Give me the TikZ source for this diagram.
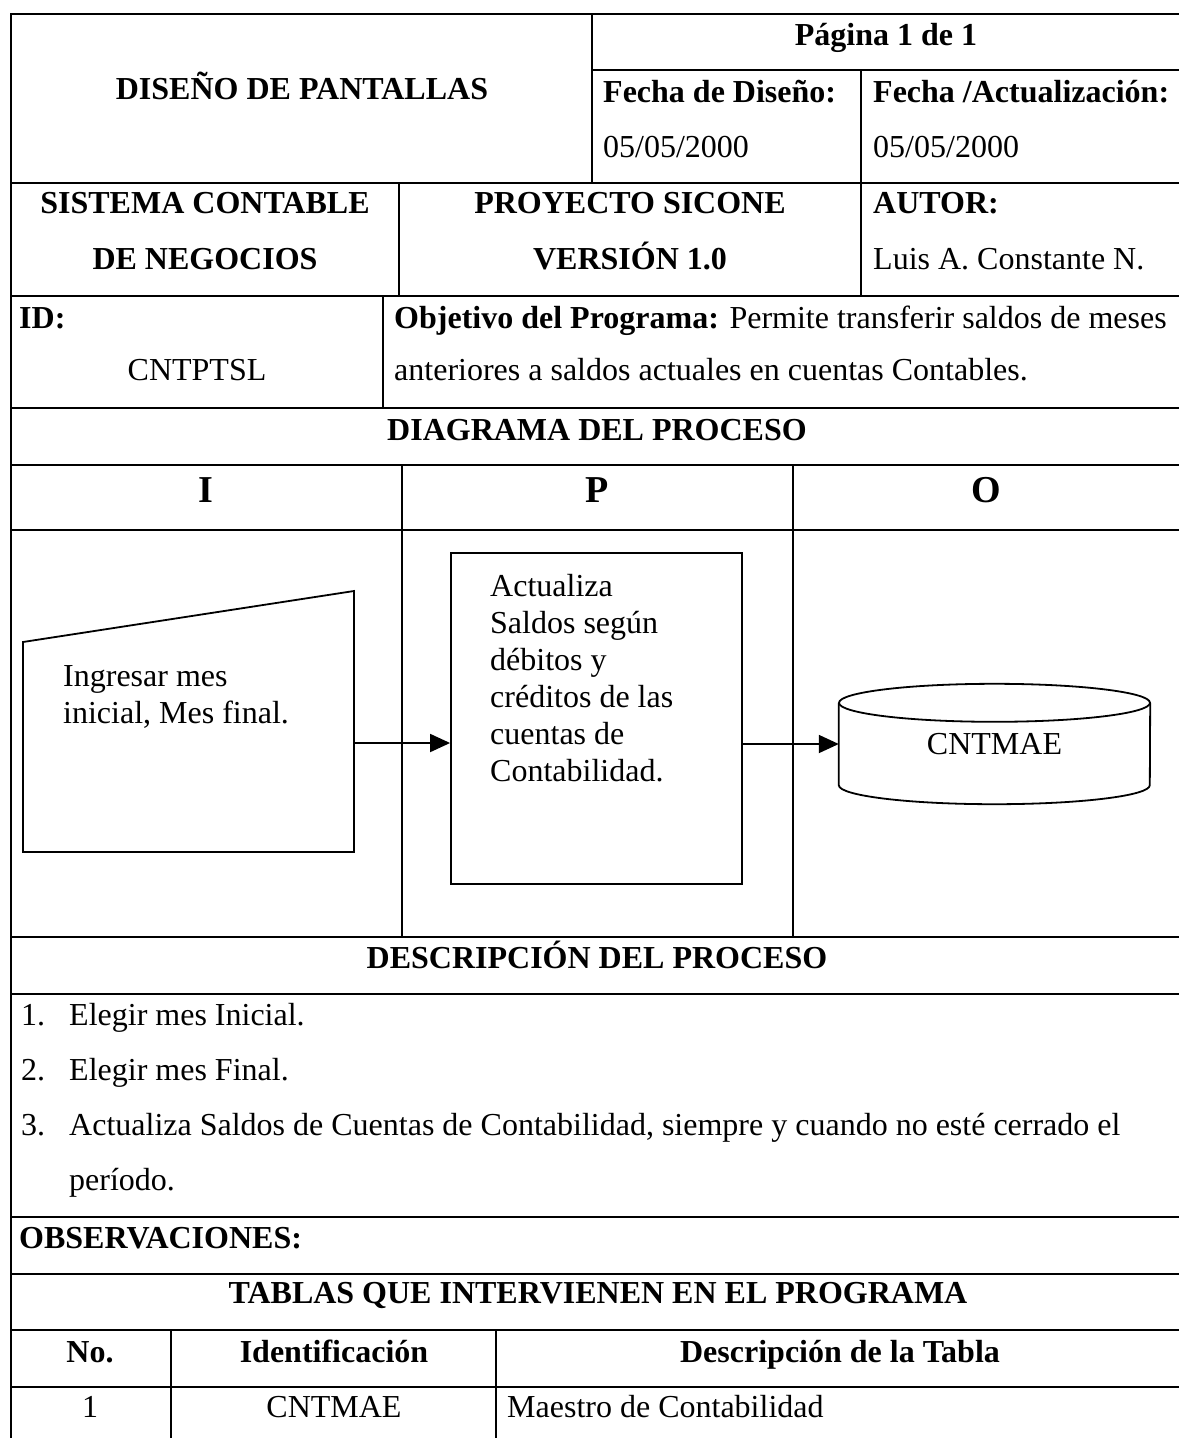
\documentclass[tikz,border=0pt]{standalone}
\usepackage{fontspec}
\setmainfont{Liberation Serif}
\usetikzlibrary{arrows.meta}

\tikzset{
  rejilla/.style={line width=1.4pt},
  forma/.style={line width=1.8pt},
  flecha/.style={line width=1.8pt, -{Triangle[length=20pt,width=18pt]}},
  txt/.style={inner sep=0pt, font=\fontsize{32}{37}\selectfont},
  txtb/.style={inner sep=0pt, font=\fontsize{32}{37}\selectfont\bfseries},
  ipo/.style={inner sep=0pt, font=\fontsize{38}{40}\selectfont\bfseries},
}

\begin{document}
\begin{tikzpicture}[x=1pt, y=-1pt]
  \useasboundingbox (0,0) rectangle (1179,1438);

  % Marco y filas
  \draw[rejilla] (11,1438) -- (11,14) -- (1179,14);
  \foreach \y in {183,296,408,465,530,937,994,1217,1274,1330,1387}
    \draw[rejilla] (11,\y) -- (1179,\y);
  \draw[rejilla] (592,70) -- (1179,70);

  % Columnas
  \draw[rejilla] (592,14) -- (592,183);
  \draw[rejilla] (861,70) -- (861,296);
  \draw[rejilla] (399,183) -- (399,296);
  \draw[rejilla] (383,296) -- (383,408);
  \draw[rejilla] (402,465) -- (402,937);
  \draw[rejilla] (793,465) -- (793,937);
  \draw[rejilla] (171,1330) -- (171,1438);
  \draw[rejilla] (496,1330) -- (496,1438);

  % Cabecera
  \node[txtb, anchor=base] (titulo) at (302,99) {DISEÑO DE PANTALLAS};
  \node[txtb, anchor=base] (pagina) at (886,45) {Página 1 de 1};
  \node[txtb, anchor=base west] (fdis) at (603,102) {Fecha de Diseño:};
  \node[txt, anchor=base west] (fdisv) at (603,157) {05/05/2000};
  \node[txtb, anchor=base west] (fact) at (873,102) {Fecha /Actualización:};
  \node[txt, anchor=base west] (factv) at (873,157) {05/05/2000};

  \node[txtb, anchor=base] (sis1) at (205,213) {SISTEMA CONTABLE};
  \node[txtb, anchor=base] (sis2) at (205,269) {DE NEGOCIOS};
  \node[txtb, anchor=base] (proy1) at (630,213) {PROYECTO SICONE};
  \node[txtb, anchor=base] (proy2) at (630,269) {VERSIÓN 1.0};
  \node[txtb, anchor=base west] (autor) at (873,213) {AUTOR:};
  \node[txt, anchor=base west] (autorv) at (873,269) {Luis A. Constante N.};

  \node[txtb, anchor=base west] (id) at (19,328) {ID:};
  \node[txt, anchor=base] (idv) at (197,380) {CNTPTSL};
  \node[txt, anchor=base west] (obj1) at (394,328) {\textbf{Objetivo del Programa:} Permite transferir saldos de meses};
  \node[txt, anchor=base west] (obj2) at (394,380) {anteriores a saldos actuales en cuentas Contables.};

  % Diagrama
  \node[txtb, anchor=base] (diag) at (597,440) {DIAGRAMA DEL PROCESO};
  \node[ipo, anchor=base] (colI) at (206,502) {I};
  \node[ipo, anchor=base] (colP) at (597,502) {P};
  \node[ipo, anchor=base] (colO) at (986,502) {O};

  % Entrada manual
  \draw[forma] (23,852) -- (23,642) -- (354,591) -- (354,852) -- cycle;
  \coordinate (entrada) at (354,743);
  \node[txt, anchor=base west] (entTxt) at (63,686)
    {\parbox[t]{280pt}{\raggedright Ingresar mes\\inicial, Mes final.}};

  % Proceso
  \node[forma, draw, inner sep=0pt, minimum width=291pt, minimum height=331pt] (proceso) at (596.5,718.5) {};
  \node[txt, anchor=base west] (procTxt) at (490,596)
    {\parbox[t]{240pt}{\raggedright Actualiza\\Saldos según\\débitos y\\créditos de las\\cuentas de\\Contabilidad.}};

  % Archivo
  \node[txt, minimum width=311pt, minimum height=120pt] (cntmae) at (994.5,744) {CNTMAE};
  \draw[forma] ([yshift=-19pt]cntmae.north west) -- ([yshift=19pt]cntmae.south west)
    arc[start angle=180, end angle=360, x radius=155.5pt, y radius=19pt]
    -- ([yshift=-19pt]cntmae.north east);
  \draw[forma] ([yshift=-19pt]cntmae.north) ellipse [x radius=155.5pt, y radius=19pt];

  \draw[flecha] (entrada) -- (entrada -| proceso.west);
  \draw[flecha] (proceso.east |- cntmae.west) -- (cntmae.west);

  % Descripcion
  \node[txtb, anchor=base] (desc) at (597,968) {DESCRIPCIÓN DEL PROCESO};
  \node[txt, anchor=base west] (n1) at (21,1025) {1.};
  \node[txt, anchor=base west] (p1) at (69,1025) {Elegir mes Inicial.};
  \node[txt, anchor=base west] (n2) at (21,1080) {2.};
  \node[txt, anchor=base west] (p2) at (69,1080) {Elegir mes Final.};
  \node[txt, anchor=base west] (n3) at (21,1135) {3.};
  \node[txt, anchor=base west] (p3) at (69,1135) {Actualiza Saldos de Cuentas de Contabilidad, siempre y cuando no esté cerrado el};
  \node[txt, anchor=base west] (p3b) at (69,1190) {período.};

  \node[txtb, anchor=base west] (obs) at (19,1248) {OBSERVACIONES:};

  % Tablas
  \node[txtb, anchor=base] (tablas) at (598,1303) {TABLAS QUE INTERVIENEN EN EL PROGRAMA};
  \node[txtb, anchor=base] (hNo) at (90,1362) {No.};
  \node[txtb, anchor=base] (hId) at (334,1362) {Identificación};
  \node[txtb, anchor=base] (hDes) at (840,1362) {Descripción de la Tabla};
  \node[txt, anchor=base] (r1No) at (90,1417) {1};
  \node[txt, anchor=base] (r1Id) at (334,1417) {CNTMAE};
  \node[txt, anchor=base west] (r1Des) at (507,1417) {Maestro de Contabilidad};
\end{tikzpicture}
\end{document}
